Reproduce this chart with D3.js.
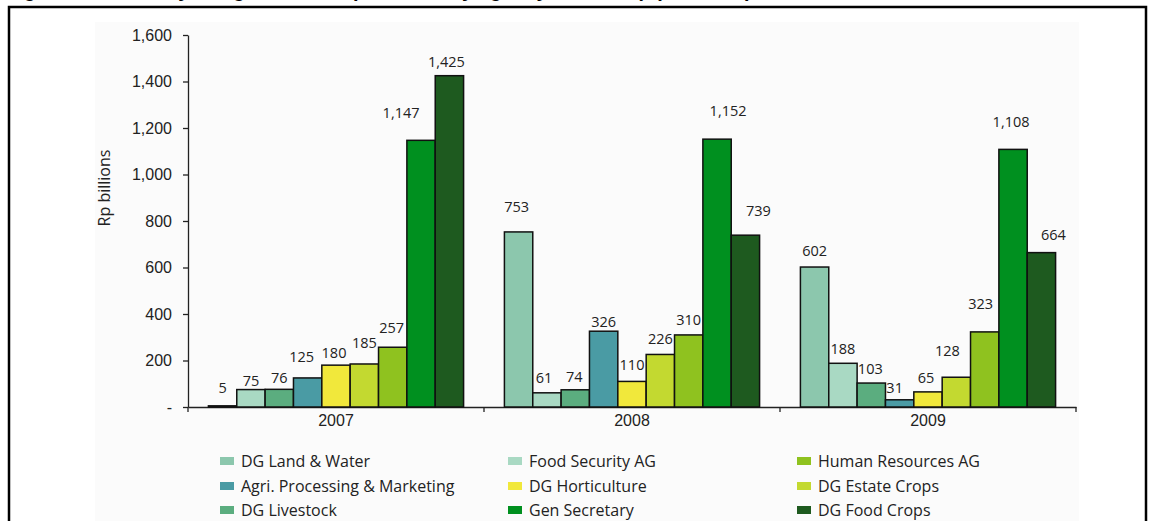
<!doctype html>
<html>
<head>
<meta charset="utf-8">
<script src="https://d3js.org/d3.v7.min.js"></script>
<style>
  body { margin: 0; background: white; }
  svg { font-family: 'Open Sans', 'Noto Sans', sans-serif; }
  .bar { stroke: #111; stroke-width: 1.5px; }
  .val { font-size: 14.5px; fill: #222; text-anchor: middle; }
  .axis text { font-size: 16px; fill: #222; }
  .leg text { font-size: 16px; fill: #222; }
</style>
</head>
<body>
<svg width="1153" height="521"></svg>
<script>
// ---- data ----
var years = ["2007", "2008", "2009"];
var series = ["DG Land & Water", "Food Security AG", "DG Livestock", "Agri. Processing & Marketing",
              "DG Horticulture", "DG Estate Crops", "Human Resources AG", "Gen Secretary", "DG Food Crops"];
var colors = ["#8cc7ad", "#a9d9c3", "#5bad7f", "#4a9ba4", "#f1e83b", "#c3d930", "#8fc21f", "#00901f", "#1e5a1f"];
var v2007 = [5, 75, 76, 125, 180, 185, 257, 1147, 1425];
var v2008 = [753, 61, 74, 326, 110, 226, 310, 1152, 739];
var v2009 = [602, 188, 103, 31, 65, 128, 323, 1108, 664];
var yTicks = [0, 200, 400, 600, 800, 1000, 1200, 1400, 1600];
// legend reading order (3 columns, row by row)
var legendOrder = ["DG Land & Water", "Food Security AG", "Human Resources AG",
                   "Agri. Processing & Marketing", "DG Horticulture", "DG Estate Crops",
                   "DG Livestock", "Gen Secretary", "DG Food Crops"];

// hand nudges for the value labels (as in the original layout)
var nudgeX = [[0, 0, 0, -6, -2, 0, -1, -20, -3], [-2, -3, -1, 0, 0, 0, 0, 11, 13], [0, 0, -1, -5, -2, -9, -4, -2, 12]];
var nudgeY = [[-13, -4, -6, -16, -7, -16, -14, -22, -9], [-20, -10, -8, -4, -11, -10, -10, -23, -19], [-11, -9, -9, -7, -9, -21, -23, -22, -13]];

var values = [v2007, v2008, v2009];

var svg = d3.select("svg");

// title (cut off at top in the source image, only descenders show)
svg.append("text")
  .attr("x", 6).attr("y", -3)
  .attr("font-family", "'Liberation Sans', Arial, sans-serif")
  .attr("font-weight", "bold").attr("font-size", 20)
  .text("Figure 4.3: Ministry of Agriculture expenditure by agency, 2007-09 (Rp billions)");

// frame
svg.append("rect")
  .attr("x", 9).attr("y", 7).attr("width", 1137).attr("height", 530)
  .attr("fill", "white").attr("stroke", "black").attr("stroke-width", 2.5);

// faint chart panel
svg.append("rect")
  .attr("x", 95).attr("y", 22).attr("width", 984).attr("height", 510)
  .attr("fill", "#fbfbfb");

var x0 = d3.scaleBand().domain(years).range([188, 1076]).padding(0);
var x1 = d3.scaleBand().domain(series).range([0, x0.bandwidth()]).paddingInner(0).paddingOuter(0.72);
var y = d3.scaleLinear().domain([0, 1600]).range([407, 35]);

// y axis
var yAxis = svg.append("g").attr("class", "axis")
  .attr("transform", "translate(188,0)")
  .call(d3.axisLeft(y).tickValues(yTicks).tickSize(5).tickSizeOuter(0)
    .tickFormat(function (d) { return d === 0 ? "-" : d3.format(",")(d); }));
yAxis.selectAll("text").attr("x", -16);
yAxis.selectAll("line, path").attr("stroke", "#222").attr("stroke-width", 1.3);

svg.append("text")
  .attr("transform", "translate(110,188) rotate(-90)")
  .attr("text-anchor", "middle").attr("font-size", 16).attr("fill", "#222")
  .text("Rp billions");

// x axis
var xAxis = svg.append("g").attr("class", "axis")
  .attr("transform", "translate(0,407)")
  .call(d3.axisBottom(x0).tickSize(0).tickPadding(8));
xAxis.select("path").attr("stroke", "#222").attr("stroke-width", 1.3);
xAxis.selectAll("text").attr("font-size", 15);

var bounds = years.map(function (d) { return x0(d); }).concat([x0.range()[1]]);
svg.selectAll(".xtick").data(bounds).enter().append("line")
  .attr("x1", function (d) { return d; }).attr("x2", function (d) { return d; })
  .attr("y1", 407).attr("y2", 412)
  .attr("stroke", "#222").attr("stroke-width", 1.3);

// bars
years.forEach(function (yr, gi) {
  var g = svg.append("g").attr("transform", "translate(" + x0(yr) + ",0)");
  g.selectAll("rect").data(values[gi]).enter().append("rect")
    .attr("class", "bar")
    .attr("x", function (d, i) { return x1(series[i]); })
    .attr("width", x1.bandwidth())
    .attr("y", function (d) { return y(d); })
    .attr("height", function (d) { return y(0) - y(d); })
    .attr("fill", function (d, i) { return colors[i]; });

  g.selectAll("text").data(values[gi]).enter().append("text")
    .attr("class", "val")
    .attr("x", function (d, i) { return x1(series[i]) + x1.bandwidth() / 2 + nudgeX[gi][i]; })
    .attr("y", function (d, i) { return y(d) + nudgeY[gi][i]; })
    .text(function (d) { return d3.format(",")(d); });
});

// legend
var colX = [220, 508, 797];
var rowY = [461, 486, 510];
var leg = svg.append("g").attr("class", "leg");
legendOrder.forEach(function (name, k) {
  var si = series.indexOf(name);
  var cx = colX[k % 3], cy = rowY[Math.floor(k / 3)];
  leg.append("rect")
    .attr("x", cx).attr("y", cy - 4).attr("width", 14).attr("height", 8)
    .attr("fill", colors[si]);
  leg.append("text")
    .attr("x", cx + 21).attr("y", cy).attr("dy", "0.35em")
    .text(name);
});
</script>
</body>
</html>
